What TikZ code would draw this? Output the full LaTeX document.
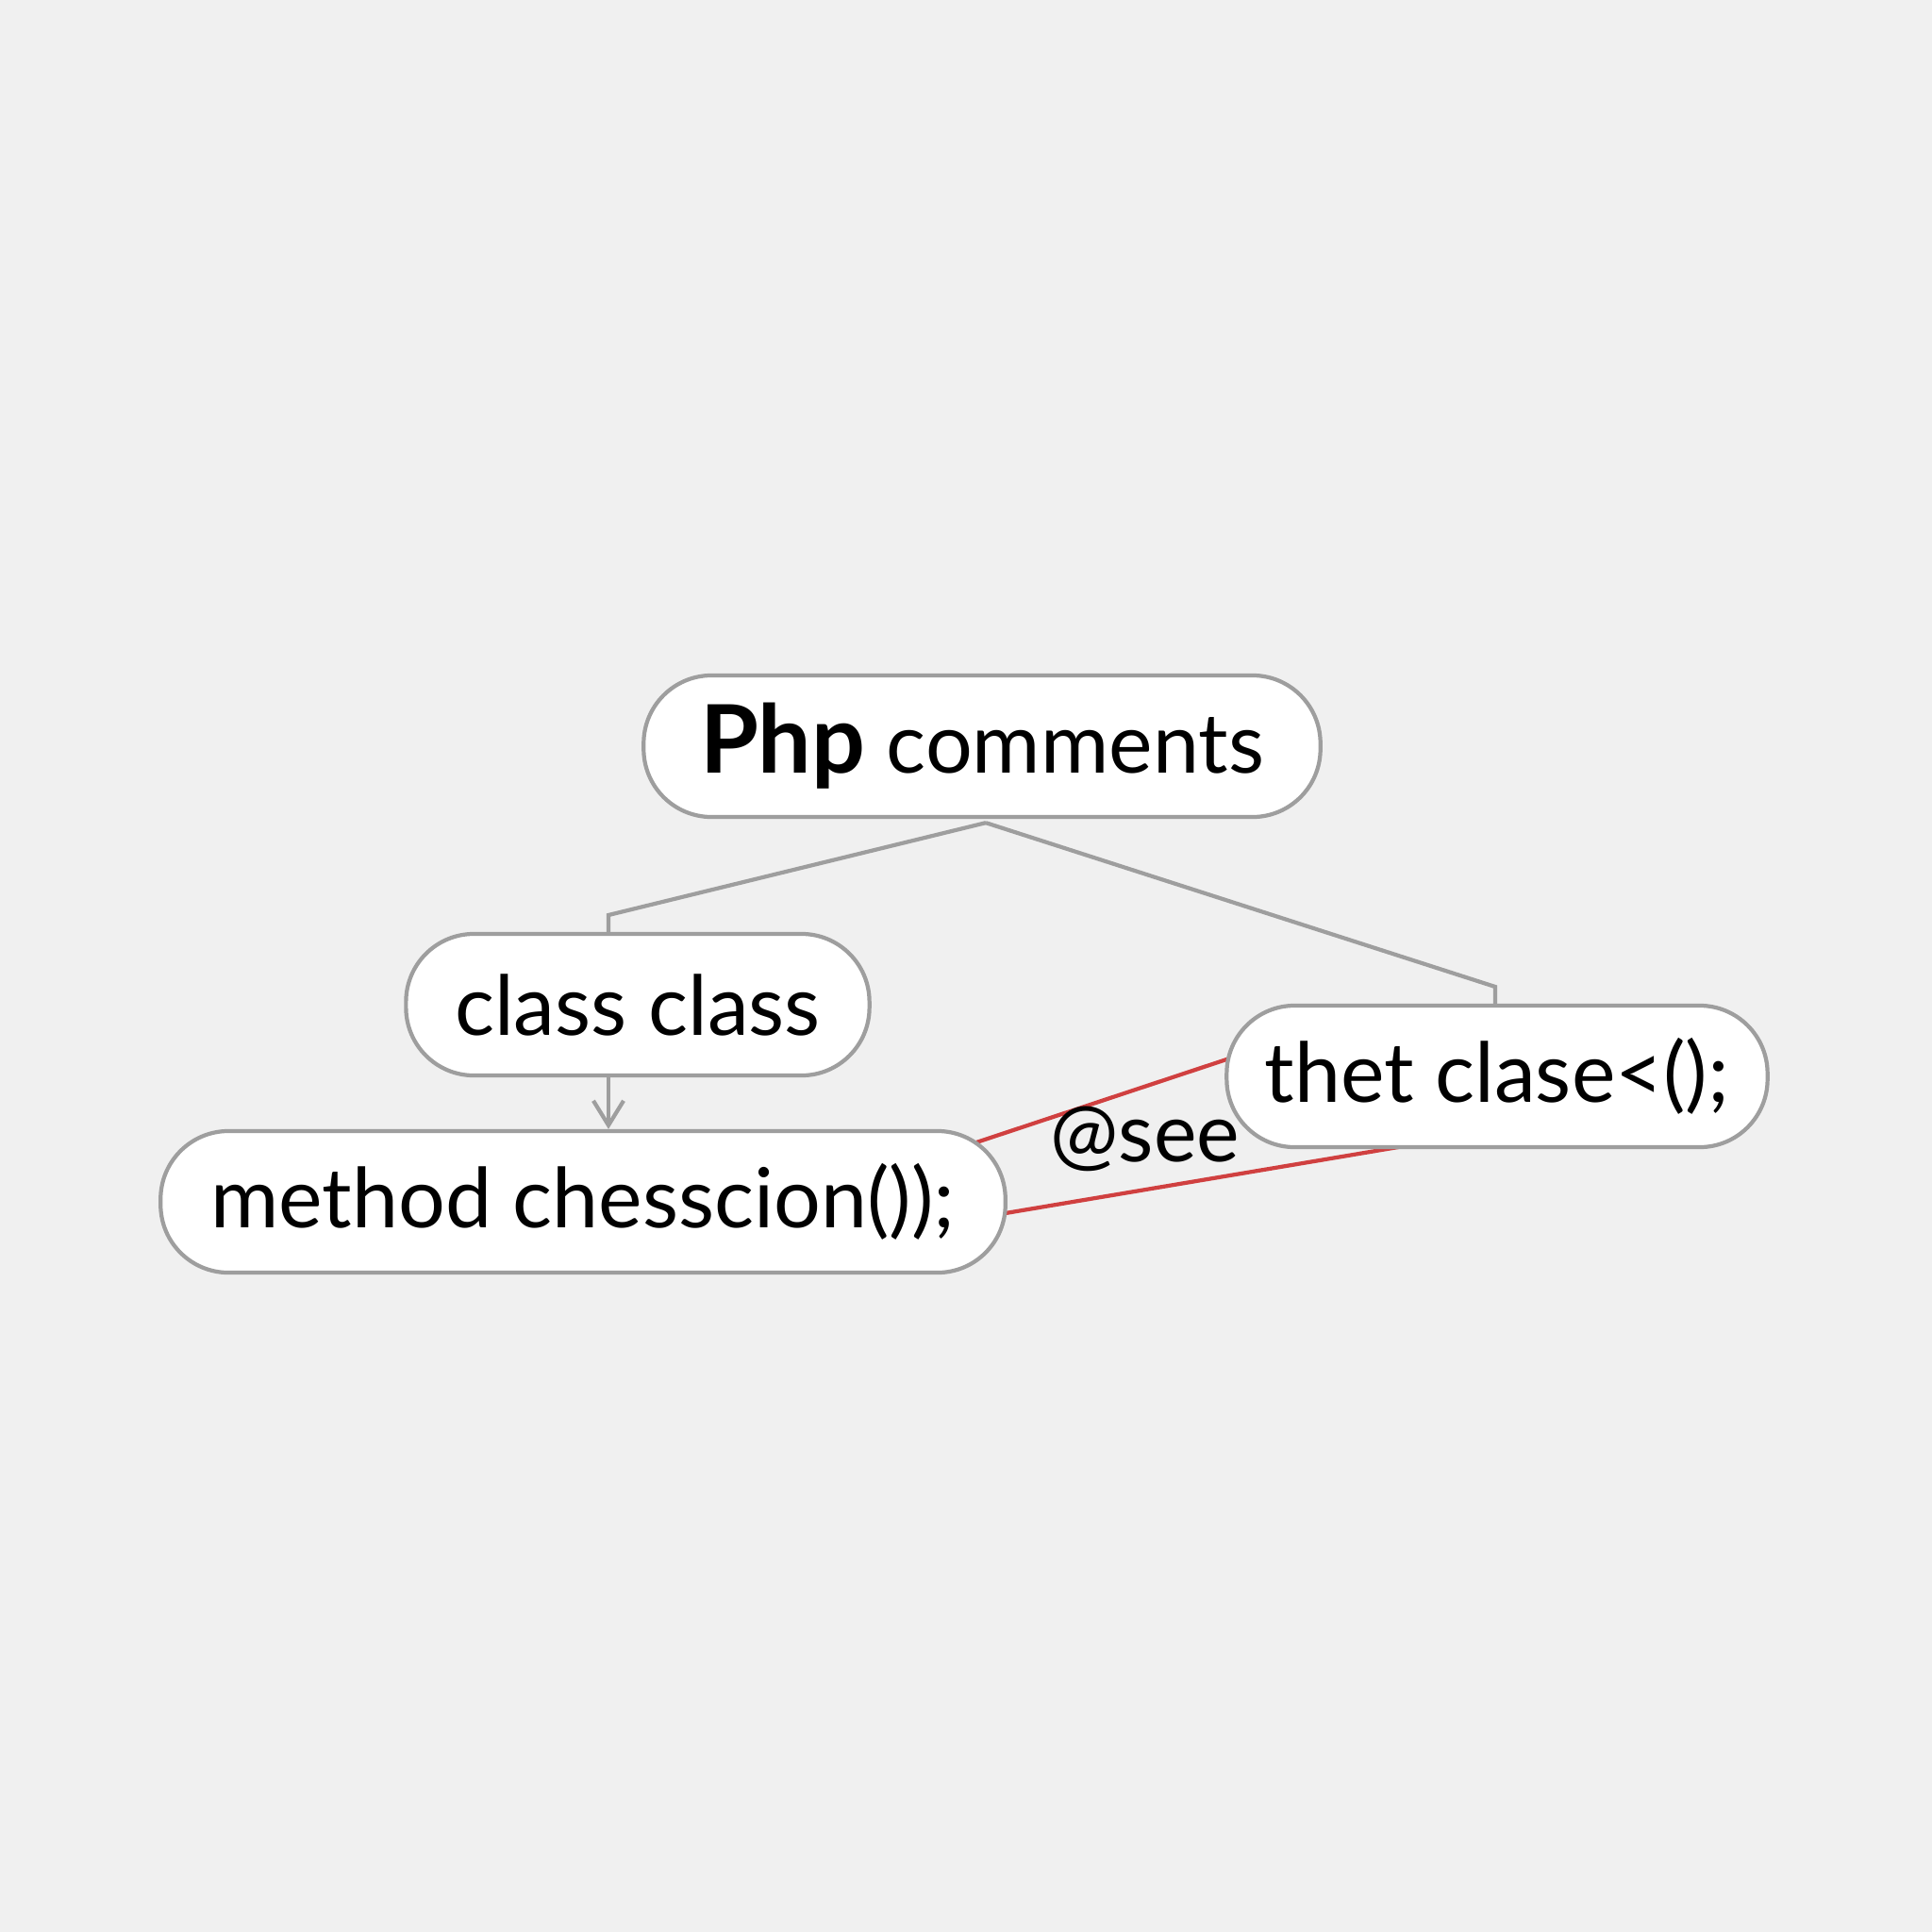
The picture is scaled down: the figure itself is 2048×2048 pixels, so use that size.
\documentclass[tikz,border=0pt]{standalone}
\usepackage{fontspec}
\setmainfont{Lato}
\usetikzlibrary{arrows.meta,backgrounds,calc}
\definecolor{bg}{HTML}{F0F0F0}
\definecolor{edge}{HTML}{9E9E9E}
\definecolor{redline}{HTML}{D04040}
\begin{document}
\begin{tikzpicture}[x=0.01cm,y=-0.01cm,
  box/.style={draw=edge,line width=1.2pt,fill=white,rounded corners=0.72cm,
    minimum height=1.5cm,inner sep=0pt,font=\fontsize{25}{30}\selectfont},
  conn/.style={draw=edge,line width=1.2pt},
  rel/.style={draw=redline,line width=1.2pt}]
\useasboundingbox (0,0) rectangle (2048,2048);
\node[box,minimum width=7.17cm] (php) at (1041,791) {{\fontsize{28.5}{32}\selectfont\bfseries Php} comments};
\node[box,minimum width=4.91cm] (class) at (676,1065) {class class};
\node[box,minimum width=8.95cm] (method) at (618,1274) {method chesscion());};
\node[box,minimum width=5.73cm] (thet) at (1587,1141) {thet clase<();};
\node[font=\fontsize{24.5}{29}\selectfont] (see) at (1214,1207) {@see};
\coordinate (lk) at (645,970);
\coordinate (rk) at (1585,1046);
\begin{scope}[on background layer]
\fill[bg] (0,0) rectangle (2048,2048);
\draw[conn] ($(php.south)+(4,4)$) -- (lk) -- (lk |- class.north);
\draw[conn] ($(php.south)+(4,4)$) -- (rk) -- (rk |- thet.north);
\draw[conn,-{Straight Barb[length=0.26cm,width=0.32cm]}] (lk |- class.south) -- (lk |- method.north);
\draw[rel] ($(method.east)+(-36,-62)$) -- ($(thet.west)+(5,-19)$);
\draw[rel] ($(method.east)+(-2,12)$) -- ($(thet.south)+(-88,-5)$);
\end{scope}
\end{tikzpicture}
\end{document}
